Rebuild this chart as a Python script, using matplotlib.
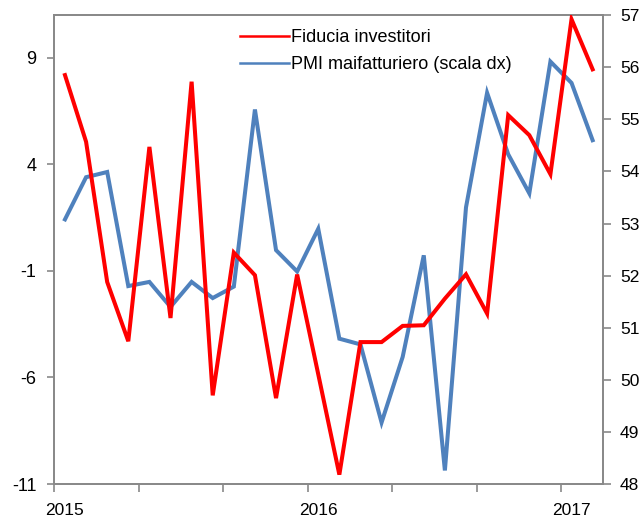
import matplotlib
matplotlib.use("Agg")
import matplotlib.pyplot as plt
import numpy as np

plt.rcParams['font.family'] = ['Liberation Sans', 'DejaVu Sans']
plt.rcParams['axes.unicode_minus'] = False

# Monthly data, Jan 2015 - Feb 2017
months = ["2015-01", "2015-02", "2015-03", "2015-04", "2015-05", "2015-06",
          "2015-07", "2015-08", "2015-09", "2015-10", "2015-11", "2015-12",
          "2016-01", "2016-02", "2016-03", "2016-04", "2016-05", "2016-06",
          "2016-07", "2016-08", "2016-09", "2016-10", "2016-11", "2016-12",
          "2017-01", "2017-02"]
fiducia = [8.19, 5.06, -1.52, -4.30, 4.82, -3.21, 7.88, -6.84, -0.14, -1.20,
           -6.97, -1.17, -5.85, -10.56, -4.34, -4.34, -3.58, -3.55, -2.30, -1.16,
           -3.00, 6.31, 5.37, 3.54, 10.81, 8.46]
pmi = [53.08, 53.89, 53.99, 51.80, 51.88, 51.40, 51.88, 51.57, 51.79, 55.19,
       52.49, 52.08, 52.90, 50.79, 50.68, 49.18, 50.44, 52.39, 48.26, 53.31,
       55.51, 54.33, 53.58, 56.11, 55.70, 54.60]
year_labels = ["2015", "2016", "2017"]
left_ticks = [-11, -6, -1, 4, 9]
right_ticks = [48, 49, 50, 51, 52, 53, 54, 55, 56, 57]
legend_labels = ["Fiducia investitori", "PMI maifatturiero (scala dx)"]

RED = "#FF0000"
BLUE = "#4F81BD"
SPINE = "#898989"

fig = plt.figure(figsize=(6.41, 5.21), dpi=100)
ax = fig.add_axes([0.0849, 0.071, 0.8561, 0.8998])
ax2 = ax.twinx()

n = len(months)
x = np.arange(n) + 0.5

l1, = ax.plot(x, fiducia, color=RED, lw=2.9, solid_joinstyle='miter', zorder=3)
l2, = ax2.plot(x, pmi, color=BLUE, lw=2.9, solid_joinstyle='miter', zorder=2)

ax.set_xlim(0, n)
ax.set_ylim(-11, 11)
ax2.set_ylim(48, 57)
ax.set_yticks(left_ticks)
ax2.set_yticks(right_ticks)

# category boundary ticks every 4 months, year labels centered on January
ax.set_xticks(np.arange(0, n + 1, 4))
ax.set_xticklabels([])
year_pos = [i + 0.5 for i, m in enumerate(months) if m.endswith("-01")]
ax.set_xticks(year_pos, minor=True)
ax.set_xticklabels(year_labels, minor=True)
ax.tick_params(axis='x', which='minor', length=0, pad=14, labelsize=12.5)
ax.tick_params(axis='x', which='major', length=6, width=1.2, color=SPINE, direction='out')
ax.tick_params(axis='y', length=5, width=1.2, color=SPINE, direction='out', pad=8, labelsize=13)
ax2.tick_params(axis='y', length=6, width=1.2, color=SPINE, direction='out', pad=6, labelsize=12.5)

for a in (ax, ax2):
    for s in a.spines.values():
        s.set_color(SPINE)
        s.set_linewidth(1.3)

# ensure red line above blue
ax.set_zorder(ax2.get_zorder() + 1)
ax.patch.set_visible(False)

leg = ax.legend([l1, l2], legend_labels, loc='upper left',
                bbox_to_anchor=(0.325, 0.985), frameon=False, fontsize=13,
                handlelength=2.7, handletextpad=0.15, labelspacing=0.55,
                borderaxespad=0)
for h in leg.get_lines():
    h.set_linewidth(1.8)

fig.savefig("out.png", dpi=100)
